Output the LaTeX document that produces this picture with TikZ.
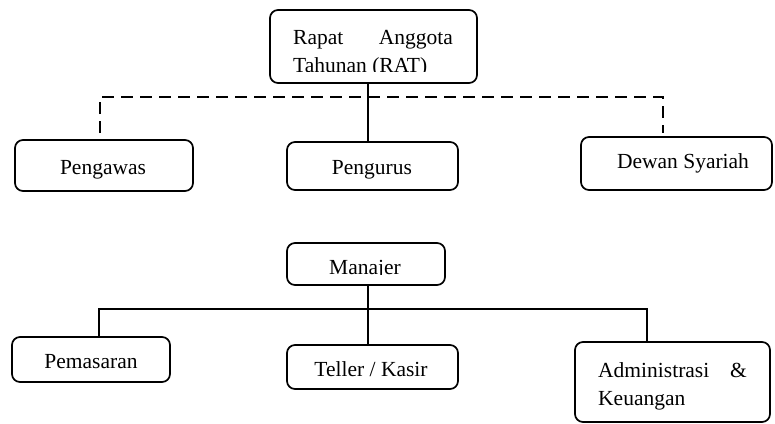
\documentclass[tikz,border=0pt]{standalone}
\usepackage{fontspec}
\setmainfont{Liberation Serif}
\begin{document}
\begin{tikzpicture}[x=1pt,y=-1pt,
  box/.style={draw, line width=1.7pt, rounded corners=8pt, inner sep=0pt,
    font=\fontsize{21.5}{26}\selectfont},
  lbl/.style={inner sep=0pt, font=\fontsize{21.5}{26}\selectfont},
  conn/.style={line width=1.7pt},
  dashline/.style={line width=1.7pt, dash pattern=on 12pt off 7pt}]
\useasboundingbox (0,0) rectangle (775,423);

% upper level: RAT and the three bodies below it
\node[box, minimum width=207pt, minimum height=73pt] (rat) at (373.5,46.5) {};
\node[box, minimum width=178pt, minimum height=51pt] (pengawas) at (104,165.5) {};
\node[lbl] (tpengawas) at (103,170) {Pengawas};
\node[box, minimum width=171pt, minimum height=48pt] (pengurus) at (372.5,166) {};
\node[lbl] (tpengurus) at (372,170) {Pengurus};
\node[box, minimum width=191pt, minimum height=53pt] (dewan) at (676.5,163.5) {};
\node[lbl] (tdewan) at (683,163) {Dewan Syariah};

% RAT text, cut off by its text frame
\begin{scope}
  \clip (275,15) rectangle (472,71.5);
  \node[lbl, anchor=base west] (rat1) at (293,44) {Rapat};
  \node[lbl, anchor=base east] (rat2) at (453,44) {Anggota};
  \node[lbl, anchor=base west] (rat3) at (293,72) {Tahunan (RAT)};
\end{scope}

% lower level: manager and units
\node[box, minimum width=158pt, minimum height=42pt] (manajer) at (366,264) {};
\begin{scope}
  \clip (290,246) rectangle (442,274.5);
  \node[lbl, anchor=base] (tmanajer) at (365,274) {Manajer};
\end{scope}
\node[box, minimum width=158pt, minimum height=45pt] (pemasaran) at (91,359.5) {};
\node[lbl] (tpemasaran) at (91,362) {Pemasaran};
\node[box, minimum width=171pt, minimum height=44pt] (teller) at (372.5,367) {};
\node[lbl] (tteller) at (371,369) {Teller / Kasir};
\node[box, minimum width=195pt, minimum height=80pt] (admin) at (672.5,382) {};
\node[lbl, anchor=base west] (adm1) at (598,377) {Administrasi};
\node[lbl, anchor=base east] (adm2) at (747,377) {\&};
\node[lbl, anchor=base west] (adm3) at (598,405) {Keuangan};

% connector guides
\coordinate (tx) at (368,0);
\coordinate (dl) at (100,133);
\coordinate (dr) at (663,133);
\coordinate (dbus) at (0,97);
\coordinate (bus) at (0,309);
\coordinate (lx) at (99,0);
\coordinate (rx) at (647,0);

% command line RAT -> Pengurus
\draw[conn] (rat.south -| tx) -- (pengurus.north -| tx);
% supervisory (dashed) line to Pengawas and Dewan Syariah
\draw[dashline] (dl) -- (dl |- dbus) -- (dr |- dbus) -- (dr);

% Manajer -> units
\draw[conn] (manajer.south -| tx) -- (teller.north -| tx);
\draw[conn] (pemasaran.north -| lx) -- (lx |- bus) -- (rx |- bus) -- (admin.north -| rx);
\end{tikzpicture}
\end{document}
